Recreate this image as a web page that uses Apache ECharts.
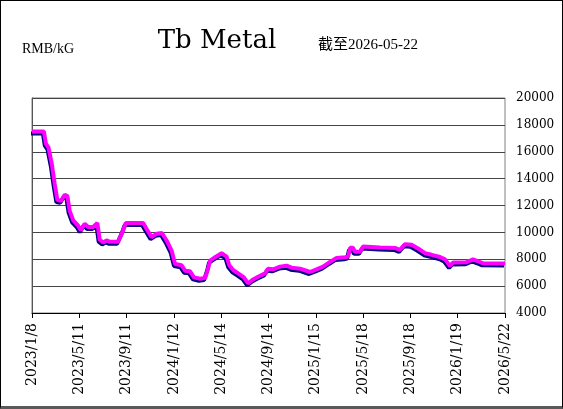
<!DOCTYPE html>
<html>
<head>
<meta charset="utf-8">
<script src="https://cdn.jsdelivr.net/npm/echarts@6/dist/echarts.min.js"></script>
<style>
  html, body { margin: 0; padding: 0; background: #fff; }
  #main { width: 563px; height: 409px; box-sizing: border-box; border: 1px solid #000; border-bottom: 3px solid #5a5a5a; }
</style>
</head>
<body>
<div id="main"></div>
<script>
// days since 2023/1/8
var days = [0, 31, 36, 43, 52, 59, 66, 76, 85, 92, 98, 107, 120, 127, 137, 146, 159, 170, 176, 185,
    194, 203, 224, 237, 244, 289, 298, 311, 324, 338, 350, 363, 372, 389, 398, 411, 421, 437, 450, 458,
    463, 476, 493, 506, 513, 523, 536, 551, 562, 575, 588, 606, 614, 627, 645, 662, 675, 697, 723, 740,
    757, 775, 792, 814, 822, 827, 835, 840, 853, 861, 905, 944, 957, 970, 987, 1004, 1022, 1039, 1061, 1074,
    1087, 1095, 1130, 1147, 1160, 1173, 1230];
// RMB/kG
var prices = [17500, 17500, 16600, 16300, 15000, 13600, 12400, 12350, 12800, 12700, 11600, 10900, 10500, 10150, 10650, 10400, 10400, 10700, 9450, 9250,
    9400, 9300, 9300, 10150, 10700, 10700, 10250, 9650, 9900, 9950, 9400, 8650, 7650, 7550, 7150, 7100, 6650, 6550, 6600, 7300,
    7900, 8150, 8450, 8200, 7550, 7200, 6950, 6650, 6200, 6500, 6700, 6950, 7300, 7250, 7450, 7520, 7370, 7300, 7050, 7250,
    7450, 7800, 8100, 8150, 8200, 8850, 8850, 8550, 8550, 8950, 8870, 8840, 8700, 9120, 9080, 8800, 8450, 8330, 8170, 7990,
    7500, 7750, 7780, 7990, 7850, 7700, 7680];

var startDate = Date.UTC(2023, 0, 8);
var totalDays = 1230;   // 2023/1/8 .. 2026/5/22

function dayLabel(v) {
    var d = new Date(startDate + v * 86400000);
    return d.getUTCFullYear() + '/' + (d.getUTCMonth() + 1) + '/' + d.getUTCDate();
}

var seriesData = [];
for (var i = 0; i < days.length; i++) {
    seriesData.push([days[i], prices[i]]);
}

var myChart = echarts.init(document.getElementById('main'));

var option = {
    backgroundColor: '#fff',
    animation: false,
    graphic: [
        {type: 'text', x: 216, y: 40, style: {text: 'Tb Metal', font: '26px "DejaVu Serif"', fill: '#000', textAlign: 'center', textVerticalAlign: 'middle'}},
        {type: 'text', x: 317, y: 44, style: {text: '截至2026-05-22', font: '15px "Liberation Serif", "Noto Sans CJK SC"', fill: '#000', textAlign: 'left', textVerticalAlign: 'middle'}},
        {type: 'text', x: 21, y: 48, style: {text: 'RMB/kG', font: '14px "Liberation Serif"', fill: '#000', textAlign: 'left', textVerticalAlign: 'middle'}}
    ],
    grid: {
        left: 31, right: 57, top: 97, bottom: 93,
        show: true, borderColor: '#808080', borderWidth: 1, backgroundColor: 'transparent'
    },
    xAxis: {
        type: 'value',
        min: 0,
        max: totalDays,
        interval: 123,
        axisLine: {lineStyle: {color: '#000', width: 1}},
        axisTick: {show: true, inside: false, length: 5, lineStyle: {color: '#000'}},
        axisLabel: {
            rotate: 90, margin: 10,
            fontFamily: 'DejaVu Serif', fontSize: 14, color: '#000',
            formatter: dayLabel,
            showMinLabel: true, showMaxLabel: true
        },
        splitLine: {show: false}
    },
    yAxis: {
        type: 'value',
        position: 'right',
        min: 4000,
        max: 20000,
        interval: 2000,
        axisLine: {show: true, lineStyle: {color: '#555'}},
        axisTick: {show: false},
        axisLabel: {
            margin: 11, fontFamily: 'DejaVu Serif', fontSize: 12, color: '#000',
            formatter: function (v) { return String(v); }
        },
        splitLine: {show: true, lineStyle: {color: '#444', width: 1}}
    },
    series: [{
        type: 'line',
        data: seriesData,
        showSymbol: false,
        lineStyle: {
            color: '#ff00ff', width: 4,
            shadowColor: '#000080', shadowBlur: 0, shadowOffsetX: -1, shadowOffsetY: 2
        }
    }]
};

myChart.setOption(option);
</script>
</body>
</html>
